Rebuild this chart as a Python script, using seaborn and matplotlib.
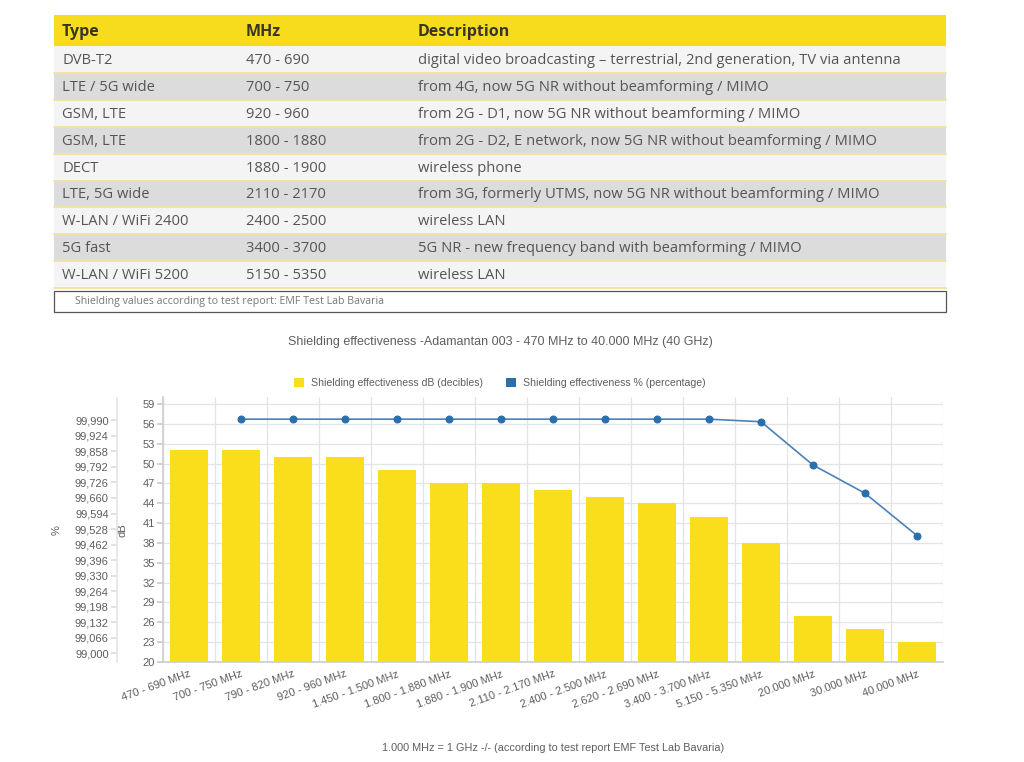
import numpy as np
import pandas as pd
import matplotlib
matplotlib.use("Agg")
import matplotlib.pyplot as plt
from matplotlib.patches import Rectangle, Patch
import seaborn as sns

# table content
table_head = ["Type", "MHz", "Description"]
types = ["DVB-T2", "LTE / 5G wide", "GSM, LTE", "GSM, LTE", "DECT", "LTE, 5G wide",
         "W-LAN / WiFi 2400", "5G fast", "W-LAN / WiFi 5200"]
mhz = ["470 - 690", "700 - 750", "920 - 960", "1800 - 1880", "1880 - 1900",
       "2110 - 2170", "2400 - 2500", "3400 - 3700", "5150 - 5350"]
desc = ["digital video broadcasting \u2013 terrestrial, 2nd generation, TV via antenna",
        "from 4G, now 5G NR without beamforming / MIMO",
        "from 2G - D1, now 5G NR without beamforming / MIMO",
        "from 2G - D2, E network, now 5G NR without beamforming / MIMO",
        "wireless phone",
        "from 3G, formerly UTMS, now 5G NR without beamforming / MIMO",
        "wireless LAN",
        "5G NR - new frequency band with beamforming / MIMO",
        "wireless LAN"]
table_note = "Shielding values according to test report: EMF Test Lab Bavaria"

# chart content
bands = ["470 - 690 MHz", "700 - 750 MHz", "790 - 820 MHz", "920 - 960 MHz",
         "1.450 - 1.500 MHz", "1.800 - 1.880 MHz", "1.880 - 1.900 MHz",
         "2.110 - 2.170 MHz", "2.400 - 2.500 MHz", "2.620 - 2.690 MHz",
         "3.400 - 3.700 MHz", "5.150 - 5.350 MHz", "20.000 MHz", "30.000 MHz",
         "40.000 MHz"]
db_vals = [52, 52, 51, 51, 49, 47, 47, 46, 45, 44, 42, 38, 27, 25, 23]
pct_vals = [np.nan, 99.995, 99.995, 99.995, 99.995, 99.995, 99.995, 99.995,
            99.995, 99.995, 99.995, 99.984, 99.80, 99.68, 99.50]
db_ticks = list(range(20, 60, 3))
pct_ticks = [99.0 + 0.066 * k for k in range(16)]

YELLOW = "#fade1c"
HEAD_YELLOW = "#f7dc1e"
BLUE = "#2a6fad"
GRID = "#e4e4e4"
TXT = "#5e5e5e"

sns.set_theme(style="white")
plt.rcParams["font.family"] = ["Liberation Sans", "DejaVu Sans"]

W, H = 1024, 762
fig = plt.figure(figsize=(W / 100, H / 100), dpi=100)

# ---------- table (pixel coordinates) ----------
tab = fig.add_axes([0, 0, 1, 1])
tab.set_xlim(0, W)
tab.set_ylim(H, 0)
tab.axis("off")

x0, x1 = 54, 946
col_x = [62, 246, 418]
head_top, head_bot = 15, 46
row_h = 26.9
tfont = ["Open Sans", "DejaVu Sans"]

tab.add_patch(Rectangle((x0, head_top), x1 - x0, head_bot - head_top,
                        facecolor=HEAD_YELLOW, edgecolor="none"))
for cx, h in zip(col_x, table_head):
    tab.text(cx, (head_top + head_bot) / 2 + 1, h, fontsize=11.5, fontweight="bold",
             color="#3a3626", va="center", ha="left", family=tfont)

for i, row in enumerate(zip(types, mhz, desc)):
    top = head_bot + i * row_h
    fc = "#f4f4f4" if i % 2 == 0 else "#dcdcdc"
    tab.add_patch(Rectangle((x0, top), x1 - x0, row_h, facecolor=fc, edgecolor="none"))
    tab.plot([x0, x1], [top + row_h, top + row_h], color="#f1e3a0", lw=1.4)
    for cx, t in zip(col_x, row):
        tab.text(cx, top + row_h / 2 + 1, t, fontsize=10.6, color="#555555",
                 va="center", ha="left", family=tfont)

note_top = head_bot + 9 * row_h + 3
tab.add_patch(Rectangle((x0, note_top), x1 - x0, 21, facecolor="white",
                        edgecolor="#555555", lw=0.9))
tab.text(75, note_top + 10.5, table_note, fontsize=7.7, color="#777777",
         va="center", ha="left", family=tfont)

# ---------- chart ----------
left, right, top, bottom = 163, 943, 397.5, 662
ax = fig.add_axes([left / W, 1 - bottom / H, (right - left) / W, (bottom - top) / H])

df = pd.DataFrame({"band": bands, "db": db_vals, "pct": pct_vals})
sns.barplot(data=df, x="band", y="db", color=YELLOW, saturation=1, width=0.72,
            linewidth=0, ax=ax)
ax.set_xlim(-0.5, len(bands) - 0.5)
ax.set_ylim(20, 60)
ax.set_yticks(db_ticks)
ax.set_axisbelow(True)
ax.yaxis.grid(True, color=GRID, lw=0.9)
ax.set_xticks(np.arange(-0.5, len(bands), 1), minor=True)
ax.xaxis.grid(True, which="minor", color=GRID, lw=0.9)
ax.xaxis.grid(False, which="major")
ax.set_xticks(range(len(bands)))
ax.set_xticklabels(bands, rotation=20, ha="right", rotation_mode="anchor",
                   fontsize=8, color=TXT)
ax.tick_params(axis="x", which="major", length=0, pad=5)
ax.tick_params(axis="x", which="minor", length=4, color=GRID, width=0.9)
ax.tick_params(axis="y", length=4, color="#cccccc", labelsize=8, labelcolor=TXT, pad=2)
for s in ["top", "right"]:
    ax.spines[s].set_visible(False)
for s in ["left", "bottom"]:
    ax.spines[s].set_color("#cfcfcf")
ax.set_xlabel("")
ax.set_ylabel("dB", fontsize=8, color=TXT)
ax.yaxis.set_label_coords((128 - left) / (right - left), 0.5)

ax2 = ax.twinx()
sns.lineplot(x=np.arange(len(bands)), y=df["pct"], ax=ax2, color="#4a82b8", lw=1.2,
             marker="o", markersize=5, markerfacecolor=BLUE, markeredgecolor=BLUE)
ax2.set_ylim(98.963, 100.087)
ax2.set_yticks(pct_ticks)
ax2.set_yticklabels([f"{v:.3f}".replace(".", ",") for v in pct_ticks])
ax2.yaxis.tick_left()
ax2.yaxis.set_label_position("left")
# outward offset is in points: 46 px -> 33 pt
ax2.spines["left"].set_position(("outward", (left - 117) * 0.72))
ax2.spines["left"].set_color("#e6e6e6")
for s in ["top", "right", "bottom"]:
    ax2.spines[s].set_visible(False)
ax2.tick_params(axis="y", length=4, color="#dddddd", labelsize=8, labelcolor=TXT, pad=2)
ax2.set_ylabel("%", fontsize=8, color=TXT)
ax2.yaxis.set_label_coords((62 - left) / (right - left), 0.5)
ax2.grid(False)
ax2.set_xlim(-0.5, len(bands) - 0.5)

fig.text(500 / W, 1 - 342 / H,
         "Shielding effectiveness -Adamantan 003 - 470 MHz to 40.000 MHz (40 GHz)",
         ha="center", va="center", fontsize=9, color=TXT)
handles = [Patch(facecolor=YELLOW, edgecolor="none"), Patch(facecolor=BLUE, edgecolor="none")]
fig.legend(handles, ["Shielding effectiveness dB (decibles)",
                     "Shielding effectiveness % (percentage)"],
           loc="center", bbox_to_anchor=(500 / W, 1 - 383 / H), ncol=2, frameon=False,
           fontsize=7.6, handlelength=0.95, handleheight=0.95, handletextpad=0.65,
           columnspacing=2.2, labelcolor=TXT)
fig.text(553 / W, 1 - 748 / H,
         "1.000 MHz = 1 GHz -/- (according to test report EMF Test Lab Bavaria)",
         ha="center", va="center", fontsize=7.8, color=TXT)

fig.savefig("out.png", dpi=100, facecolor="white")
